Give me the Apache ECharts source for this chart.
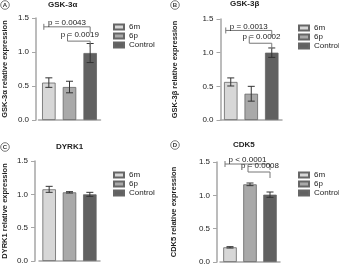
<!DOCTYPE html>
<html lang="en">
<head>
    <meta charset="UTF-8">
    <title>Relative expression</title>
    <script src="https://cdn.jsdelivr.net/npm/echarts@6/dist/echarts.min.js"></script>
</head>
<body style="margin:0;background:#fff;">
<div id="main" style="width:339px; height:267px;"></div>
</body>
<script type="text/javascript">

    // groups shown in every panel
    const groups = ['6m', '6p', 'Control'];
    const titles = ['GSK-3α', 'GSK-3β', 'DYRK1', 'CDK5'];
    const letters = ['A', 'B', 'C', 'D'];
    const yNames = ['GSK-3α relative expression', 'GSK-3β relative expression',
                    'DYRK1 relative expression', 'CDK5 relative expression'];
    const yTicks = [0, 0.5, 1.0, 1.5];

    // mean and error (SEM) per panel, order = groups
    const meansA = [0.55, 0.485, 0.985];
    const errA = [0.07, 0.085, 0.14];
    const meansB = [0.565, 0.39, 1.00];
    const errB = [0.06, 0.11, 0.07];
    const meansC = [1.075, 1.03, 1.00];
    const errC = [0.045, 0.01, 0.03];
    const meansD = [0.22, 1.165, 1.01];
    const errD = [0.01, 0.02, 0.04];

    // significance brackets: [from group, to group, height, label]
    const bracketsA = [[0, 2, 1.37, 'p = 0.0043'], [1, 2, 1.16, 'p = 0.0019']];
    const bracketsB = [[0, 2, 1.33, 'p = 0.0013'], [1, 2, 1.14, 'p = 0.0002']];
    const bracketsC = [];
    const bracketsD = [[0, 2, 1.47, 'p < 0.0001'], [1, 2, 1.35, 'p = 0.0008']];

    const means = [meansA, meansB, meansC, meansD];
    const errs = [errA, errB, errC, errD];
    const brackets = [bracketsA, bracketsB, bracketsC, bracketsD];

    // layout of the four panels
    const grids = [
        {left: 38.5, top: 18, width: 62, height: 102},
        {left: 220.5, top: 19, width: 61.5, height: 101},
        {left: 39, top: 161, width: 61, height: 100},
        {left: 220, top: 162, width: 60, height: 100}
    ];
    const yOffsets = [2.5, 0, 4, 3];
    const nameGaps = [27, 42, 26, 39];
    const legendPos = [[113, 23], [298, 24], [113, 171], [298, 171]];
    const titlePos = [[62, 6], [244, 5], [70, 148], [247, 146]];
    const letterPos = [[5, 5], [175, 5], [5, 147], [175, 145]];

    const colors = ['#d7d7d7', '#a9a9a9', '#616161'];
    const axisColor = '#a6a6a6';
    const font = 'Liberation Sans, Arial, sans-serif';

    let myChart = echarts.init(document.getElementById('main'));

    let xAxes = [], yAxes = [], series = [], legends = [], graphics = [];

    grids.forEach(function (g, p) {
        xAxes.push({
            type: 'category', gridIndex: p, data: groups,
            axisLine: {lineStyle: {color: axisColor, width: 1.5}},
            axisTick: {alignWithLabel: true, length: 4, lineStyle: {color: axisColor, width: 1}},
            axisLabel: {show: false}
        });
        yAxes.push({
            type: 'value', gridIndex: p, min: 0, max: 1.5, interval: 0.5,
            offset: yOffsets[p],
            name: yNames[p], nameLocation: 'middle', nameGap: nameGaps[p],
            nameTextStyle: {fontSize: 7.5, fontWeight: 'bold', color: '#222', fontFamily: font},
            axisLine: {show: true, lineStyle: {color: axisColor, width: 1.5}},
            axisTick: {show: true, length: 4, lineStyle: {color: axisColor, width: 1}},
            axisLabel: {fontSize: 8, color: '#222', margin: 7, fontFamily: font,
                formatter: function (v) { return v.toFixed(1); }},
            splitLine: {show: false}
        });

        // one bar series per group so the legend picks up the colours
        groups.forEach(function (name, gi) {
            series.push({
                name: name, type: 'bar', xAxisIndex: p, yAxisIndex: p,
                barWidth: 13.5, barGap: '-100%',
                data: means[p].map(function (m, i) { return i === gi ? m : '-'; }),
                itemStyle: {color: colors[gi], borderColor: '#666', borderWidth: 0.8}
            });
        });

        // error bars
        series.push({
            type: 'custom', xAxisIndex: p, yAxisIndex: p, z: 5,
            data: means[p].map(function (m, i) { return [i, m - errs[p][i], m + errs[p][i]]; }),
            encode: {x: 0, y: [1, 2]},
            renderItem: function (params, api) {
                let lo = api.coord([api.value(0), api.value(1)]);
                let hi = api.coord([api.value(0), api.value(2)]);
                let st = {stroke: '#333', lineWidth: 1};
                return {type: 'group', children: [
                    {type: 'line', shape: {x1: lo[0], y1: lo[1], x2: hi[0], y2: hi[1]}, style: st},
                    {type: 'line', shape: {x1: lo[0] - 3.5, y1: lo[1], x2: lo[0] + 3.5, y2: lo[1]}, style: st},
                    {type: 'line', shape: {x1: hi[0] - 3.5, y1: hi[1], x2: hi[0] + 3.5, y2: hi[1]}, style: st}
                ]};
            }
        });

        // significance brackets
        if (brackets[p].length) {
            series.push({
                type: 'custom', xAxisIndex: p, yAxisIndex: p, z: 6,
                data: brackets[p],
                encode: {x: 0, y: 2},
                renderItem: function (params, api) {
                    let a = api.coord([api.value(0), api.value(2)]);
                    let b = api.coord([api.value(1), api.value(2)]);
                    let top = params.dataIndex === 0;
                    let x1 = a[0] - (top ? 5 : 2), x2 = b[0], y = a[1];
                    let st = {stroke: '#777', lineWidth: 1};
                    let kids = [
                        {type: 'line', shape: {x1: x1, y1: y, x2: x2, y2: y}, style: st},
                        {type: 'line', shape: {x1: x2, y1: y, x2: x2, y2: y + 6}, style: st}
                    ];
                    if (top) {
                        kids.push({type: 'line', shape: {x1: x1, y1: y - 3, x2: x1, y2: y + 3}, style: st});
                    } else {
                        kids.push({type: 'line', shape: {x1: x1, y1: y, x2: x1, y2: y - 7}, style: st});
                    }
                    kids.push({
                        type: 'text',
                        style: {
                            text: brackets[p][params.dataIndex][3],
                            x: (x1 + x2) / 2 + (top ? 0 : 1), y: y - (top ? 0 : 2),
                            align: 'center', verticalAlign: 'bottom',
                            fontSize: 8, fill: '#222', fontFamily: font
                        }
                    });
                    return {type: 'group', children: kids};
                }
            });
        }

        legends.push({
            data: groups, orient: 'vertical', left: legendPos[p][0], top: legendPos[p][1],
            padding: 0, itemWidth: 10, itemHeight: 5, itemGap: 1, icon: 'rect',
            selectedMode: false,
            textStyle: {fontSize: 8, color: '#222', fontFamily: font}
        });

        graphics.push({
            type: 'text', left: titlePos[p][0] - 14, top: titlePos[p][1] - 5,
            style: {text: titles[p], fontSize: 8, fontWeight: 'bold', fill: '#222', fontFamily: font,
                    width: 28, align: 'center'}
        });
        graphics.push({
            type: 'circle', shape: {cx: letterPos[p][0], cy: letterPos[p][1], r: 4.3},
            style: {fill: '#fff', stroke: '#555', lineWidth: 0.8}
        });
        graphics.push({
            type: 'text', x: letterPos[p][0], y: letterPos[p][1],
            style: {text: letters[p], fontSize: 6, fontWeight: 'bold', fill: '#333', fontFamily: font,
                    align: 'center', verticalAlign: 'middle'}
        });
    });

    let option = {
        animation: false,
        backgroundColor: '#fff',
        grid: grids,
        xAxis: xAxes,
        yAxis: yAxes,
        legend: legends,
        graphic: graphics,
        series: series
    };

    myChart.setOption(option);
</script>
</html>
